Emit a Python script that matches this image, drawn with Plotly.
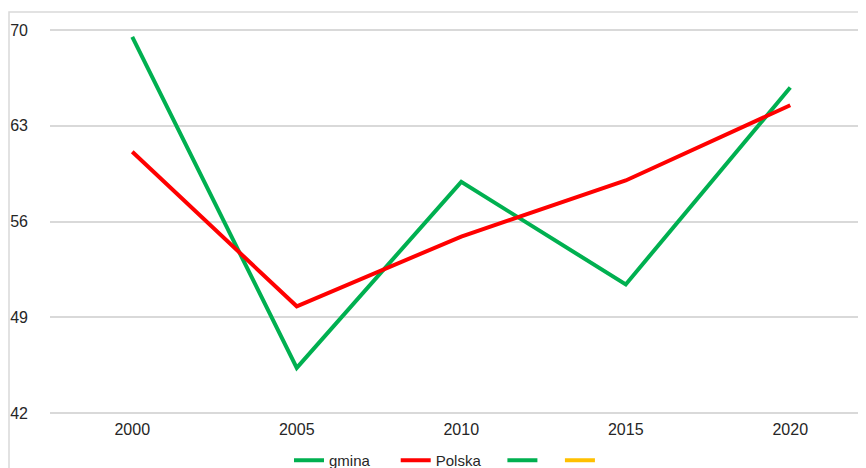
import plotly.graph_objects as go

years = ["2000", "2005", "2010", "2015", "2020"]
gmina = [69.5, 45.3, 58.9, 51.4, 65.8]
polska = [61.1, 49.8, 54.9, 59.0, 64.5]
y_ticks = [42, 49, 56, 63, 70]

GREEN = "#00B050"
RED = "#FF0000"
YELLOW = "#FFC000"
GRID = "#D9D9D9"
FONT = "Liberation Sans"
NB = "\u00a0"

fig = go.Figure()
fig.add_trace(go.Scatter(x=years, y=gmina, mode="lines", name="gmina" + NB * 5,
                         line=dict(color=GREEN, width=4)))
fig.add_trace(go.Scatter(x=years, y=polska, mode="lines", name="Polska" + NB * 4,
                         line=dict(color=RED, width=4)))
fig.add_trace(go.Scatter(x=[None], y=[None], mode="lines", name=NB * 3,
                         line=dict(color=GREEN, width=4)))
fig.add_trace(go.Scatter(x=[None], y=[None], mode="lines", name=NB,
                         line=dict(color=YELLOW, width=4)))

# page is rendered with an 8px body offset; coordinates below are in figure px
OFF = 8
W, H = 866, 468
EXT = 2.0  # px of extra axis range so end gridlines are drawn
L, R = 50 - OFF, 2
T = 30 - OFF - EXT
B = H - (413 - OFF + EXT)
pw = W - L - R
ph = H - T - B
band = 164.5
unit = (413 - 30) / 28.0
pad = EXT / unit

# chart-area frame (left and top edges)
fx = (9 - OFF - L) / pw
fy = 1 + (T - (12 - OFF)) / ph
fig.add_shape(type="path", xref="paper", yref="paper",
              path=f"M {fx},-0.5 L {fx},{fy} L 1.05,{fy}",
              line=dict(color=GRID, width=1.5))

fig.update_layout(
    width=W, height=H,
    margin=dict(l=L, r=R, t=T, b=B, pad=0, autoexpand=False),
    paper_bgcolor="white", plot_bgcolor="white",
    font=dict(family=FONT, size=16, color="#262626"),
    showlegend=True,
    legend=dict(orientation="h", x=(289 - OFF - L) / pw, xanchor="left",
                y=((413 - OFF + EXT) - (444 - OFF)) / ph, yanchor="top",
                font=dict(size=15, color="#262626"),
                bgcolor="rgba(0,0,0,0)"),
)
fig.update_xaxes(type="category", range=[-0.5, -0.5 + pw / band],
                 showgrid=False, showline=False, ticks="",
                 tickfont=dict(size=16), ticklabelstandoff=3)
fig.update_yaxes(range=[42 - pad, 70 + pad], tickvals=y_ticks, showgrid=True,
                 gridcolor=GRID, gridwidth=1.5, zeroline=False,
                 showline=False, ticks="", tickfont=dict(size=16),
                 ticklabelstandoff=21)

fig.write_html("out.html")
